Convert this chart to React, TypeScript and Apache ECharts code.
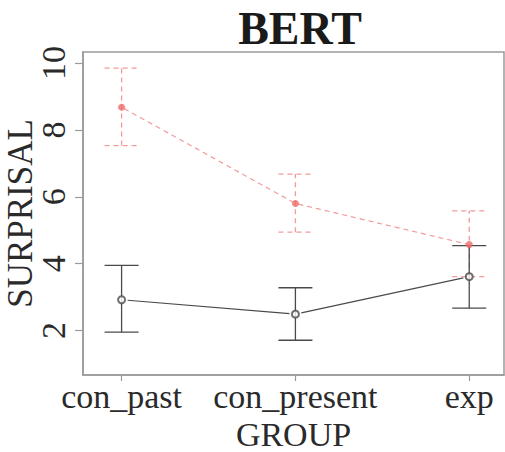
import React, { useEffect, useRef } from "react";
import * as echarts from "echarts";

const categories = ["con_past", "con_present", "exp"];
const xPos = [1, 2, 3];
const blackMean = [2.92, 2.49, 3.61];
const blackLow = [1.95, 1.71, 2.67];
const blackHigh = [3.95, 3.28, 4.54];
const redMean = [8.68, 5.8, 4.57];
const redLow = [7.53, 4.94, 3.61];
const redHigh = [9.85, 6.68, 5.58];
const yTicks = [2, 4, 6, 8, 10];

const FONT = "'Liberation Serif', 'Times New Roman', serif";
const BLACK = "#4a4a4a";
const RED = "#ef6a6a";
const RED_LINE = "#f29a9a";

function errorBarSeries(low: number[], high: number[], color: string, dashed: boolean) {
  return {
    type: "custom",
    z: 3,
    data: xPos.map((x, i) => [x, low[i], high[i]]),
    encode: { x: 0, y: [1, 2] },
    renderItem: (params: any, api: any) => {
      const x = api.value(0);
      const lo = api.coord([x, api.value(1)]);
      const hi = api.coord([x, api.value(2)]);
      const hw = 17;
      const style = {
        stroke: color,
        lineWidth: 1.3,
        lineDash: dashed ? [5, 4] : null,
      };
      return {
        type: "group",
        children: [
          { type: "line", shape: { x1: lo[0], y1: lo[1], x2: hi[0], y2: hi[1] }, style },
          { type: "line", shape: { x1: hi[0] - hw, y1: hi[1], x2: hi[0] + hw, y2: hi[1] }, style },
          { type: "line", shape: { x1: lo[0] - hw, y1: lo[1], x2: lo[0] + hw, y2: lo[1] }, style },
        ],
      };
    },
  };
}

function connectSeries(mean: number[], color: string, dashed: boolean, gap: number) {
  const segs = [];
  for (let i = 1; i < mean.length; i++) {
    segs.push([xPos[i - 1], mean[i - 1], xPos[i], mean[i]]);
  }
  return {
    type: "custom",
    z: 2,
    data: segs,
    encode: { x: [0, 2], y: [1, 3] },
    renderItem: (params: any, api: any) => {
      const a = api.coord([api.value(0), api.value(1)]);
      const b = api.coord([api.value(2), api.value(3)]);
      const dx = b[0] - a[0];
      const dy = b[1] - a[1];
      const len = Math.sqrt(dx * dx + dy * dy);
      const ux = dx / len;
      const uy = dy / len;
      return {
        type: "line",
        shape: {
          x1: a[0] + ux * gap,
          y1: a[1] + uy * gap,
          x2: b[0] - ux * gap,
          y2: b[1] - uy * gap,
        },
        style: { stroke: color, lineWidth: 1.2, lineDash: dashed ? [5, 4] : null },
      };
    },
  };
}

export default function App() {
  const ref = useRef<HTMLDivElement>(null);
  useEffect(() => {
    if (!ref.current) return;
    const chart = echarts.init(ref.current, null, { renderer: "svg" });
    chart.setOption({
      animation: false,
      backgroundColor: "#ffffff",
      textStyle: { fontFamily: FONT },
      title: {
        text: "BERT",
        left: 295,
        textAlign: "center",
        top: 0,
        textStyle: { fontFamily: FONT, fontSize: 46, fontWeight: "bold", color: "#1a1a1a" },
      },
      grid: {
        left: 83,
        right: 1,
        top: 52,
        bottom: 77,
        show: true,
        borderColor: "#9a9a9a",
        borderWidth: 1.5,
        backgroundColor: "transparent",
        containLabel: false,
        outerBoundsMode: "none",
      },
      xAxis: {
        type: "value",
        min: 0.778,
        max: 3.2,
        splitLine: { show: false },
        axisLine: { show: true, lineStyle: { color: "#9a9a9a", width: 1.5 } },
        axisTick: {
          show: true,
          length: 6,
          customValues: xPos,
          lineStyle: { color: "#9a9a9a", width: 1.2 },
        },
        axisLabel: {
          customValues: xPos,
          formatter: (v: number) => categories[Math.round(v) - 1] ?? "",
          fontFamily: FONT,
          fontSize: 34,
          color: "#2a2a2a",
          margin: 4,
        },
        name: "GROUP",
        nameLocation: "middle",
        nameGap: 42,
        nameMoveOverlap: false,
        nameTextStyle: { fontFamily: FONT, fontSize: 34, color: "#2a2a2a" },
      },
      yAxis: {
        type: "value",
        min: 0.67,
        max: 10.33,
        splitLine: { show: false },
        axisLine: { show: true, lineStyle: { color: "#9a9a9a", width: 1.5 } },
        axisTick: {
          show: true,
          length: 8,
          customValues: yTicks,
          lineStyle: { color: "#9a9a9a", width: 1.2 },
        },
        axisLabel: {
          customValues: yTicks,
          rotate: 90,
          fontFamily: FONT,
          fontSize: 34,
          color: "#2a2a2a",
          margin: 13,
        },
        name: "SURPRISAL",
        nameLocation: "middle",
        nameGap: 45,
        nameMoveOverlap: false,
        nameTextStyle: { fontFamily: FONT, fontSize: 35, color: "#2a2a2a" },
      },
      series: [
        connectSeries(redMean, RED_LINE, true, 3),
        connectSeries(blackMean, BLACK, false, 6),
        errorBarSeries(redLow, redHigh, RED_LINE, true),
        errorBarSeries(blackLow, blackHigh, BLACK, false),
        {
          type: "scatter",
          z: 5,
          data: xPos.map((x, i) => [x, redMean[i]]),
          symbol: "circle",
          symbolSize: 7,
          itemStyle: { color: RED },
        },
        {
          type: "scatter",
          z: 5,
          data: xPos.map((x, i) => [x, blackMean[i]]),
          symbol: "emptyCircle",
          symbolSize: 7,
          itemStyle: { color: BLACK, borderColor: BLACK, borderWidth: 1.2 },
        },
      ],
    });
    return () => chart.dispose();
  }, []);
  return (
    <div
      ref={ref}
      style={{ position: "fixed", left: 0, top: 0, width: 505, height: 452 }}
    />
  );
}
